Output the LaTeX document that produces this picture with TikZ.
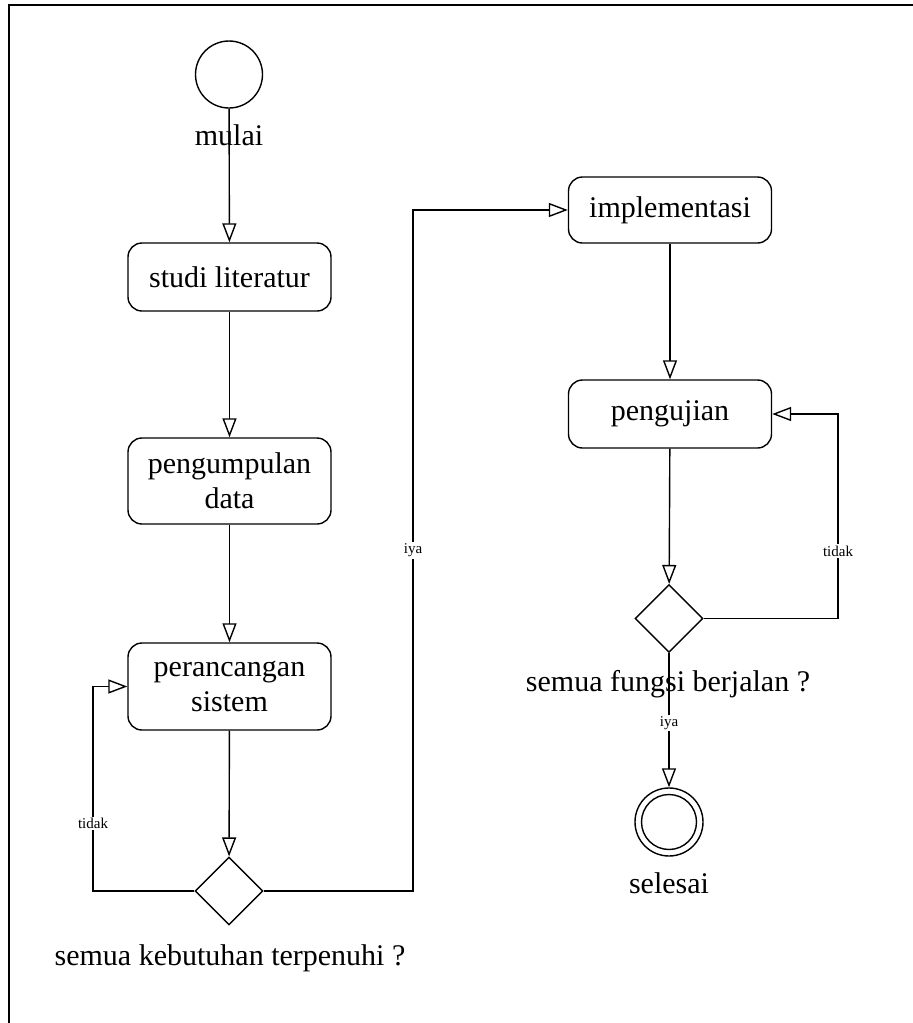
\documentclass[tikz,border=0pt]{standalone}
\usepackage{fontspec}
\setmainfont{Liberation Serif}
\usetikzlibrary{arrows.meta,shapes.geometric}
\begin{document}
\begin{tikzpicture}[x=1pt,y=-1pt,
  line width=1.4pt,
  act/.style={draw, rounded corners=14pt, minimum width=203pt, minimum height=68pt,
    align=center, inner sep=0pt, font=\fontsize{30}{35}\selectfont},
  dec/.style={draw, diamond, minimum width=68pt, minimum height=68pt, inner sep=0pt},
  lbl/.style={inner sep=0pt, font=\fontsize{30}{35}\selectfont},
  guard/.style={fill=white, inner sep=1.5pt, font=\fontsize{15}{17}\selectfont},
  flow/.style={-{Triangle[open,length=19pt,width=14pt]}},
]
\useasboundingbox (0,0) rectangle (913,1023);

% outer frame (top and left edges)
\draw[line width=1.6pt] (9,1023) -- (9,5) -- (913,5);

% left column
\node[draw, circle, minimum size=67pt, inner sep=0pt] (start) at (229,74.5) {};
\node[lbl] (startlbl) at (229,135) {mulai};
\node[act] (studi) at (229.5,277) {studi literatur};
\node[act, minimum height=86pt] (kumpul) at (229.5,481) {pengumpulan\\data};
\node[act, minimum height=87pt] (rancang) at (229.5,686.5) {perancangan\\sistem};
\node[dec] (d1) at (229,891) {};
\node[lbl] (d1lbl) at (230,958) {semua kebutuhan terpenuhi ?};

% right column
\node[act, minimum height=66pt] (impl) at (670,210) {implementasi};
\node[act] (uji) at (670,414) {pengujian};
\node[dec] (d2) at (669,618.5) {};
\node[lbl] (d2lbl) at (668,684) {semua fungsi berjalan ?};
\node[draw, circle, minimum size=68pt, inner sep=0pt] (end) at (669,822) {};
\node[draw, circle, minimum size=55pt, inner sep=0pt] (endin) at (end) {};
\node[lbl] (endlbl) at (669,883) {selesai};

% loop bend points
\coordinate (l1) at (93,891);
\coordinate (y1) at (413,891);
\coordinate (l2) at (838,618.5);

% control flow
\draw[flow] (start) -- (studi);
\draw[flow] (studi) -- (kumpul);
\draw[flow] (kumpul) -- (rancang);
\draw[flow] (rancang) -- (d1);
\draw[flow] (d1.west) -- (l1) -- node[guard, pos=0.33] {tidak} (l1 |- rancang.west) -- (rancang.west);
\draw[flow] (d1.east) -- (y1) -- node[guard] {iya} (y1 |- impl.west) -- (impl.west);
\draw[flow] (impl) -- (uji);
\draw[flow] (uji) -- (d2);
\draw[flow] (d2.east) -- (l2) -- node[guard, pos=0.33] {tidak} (l2 |- uji.east) -- (uji.east);
\draw[flow] (d2) -- node[guard, pos=0.52] {iya} (end);
\end{tikzpicture}
\end{document}
